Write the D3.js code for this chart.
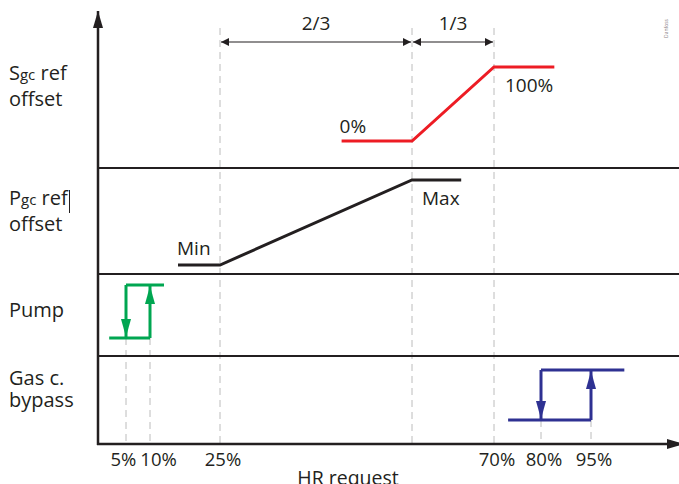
<!DOCTYPE html>
<html>
<head>
<meta charset="utf-8">
<script src="https://cdn.jsdelivr.net/npm/d3@7"></script>
<style>
  body { margin: 0; background: #fff; }
  text { font-family: "Open Sans", sans-serif; fill: #231f20; }
</style>
</head>
<body>
<svg class="chart"></svg>
<script>
// HR request values (%) that carry a tick + dashed guide
var ticks = [5, 10, 25, 70, 80, 95];
var tickLabels = ["5%", "10%", "25%", "70%", "80%", "95%"];
// extra guide where the 2/3 - 1/3 split sits
var splitGuides = [25, 55, 70];
var splitLabels = ["2/3", "1/3"];

// Sgc ref offset (red): HR % vs offset %
var sgcX = [44, 55, 70, 84];
var sgcY = [0, 0, 100, 100];
// Pgc ref offset (black): HR % vs Min(0)..Max(100)
var pgcX = [16, 25, 55, 64];
var pgcY = [0, 0, 100, 100];
// hysteresis: [line start, switch off, switch on, line end]
var pumpX = [2, 5, 10, 13];
var gasX = [73, 80, 95, 105];

var rowNames = [["Sgc", " ref", "offset"], ["Pgc", " ref", "offset"], ["Pump"], ["Gas c.", "bypass"]];

var Width = 679, Height = 484;
var x0 = 98, axisY = 444;

// piecewise x scale, the drawing is not to scale
var x = d3.scaleLinear()
    .domain([0, 5, 10, 25, 55, 70, 80, 95])
    .range([x0, 126, 150, 220, 412, 494, 541, 591]);

var ySgc = d3.scaleLinear().domain([0, 100]).range([141, 67]);
var yPgc = d3.scaleLinear().domain([0, 100]).range([265, 180]);
var yPump = d3.scaleLinear().domain([0, 1]).range([338, 285]);
var yGas = d3.scaleLinear().domain([0, 1]).range([420, 370]);

var chart = d3.select(".chart")
    .attr("width", Width)
    .attr("height", Height);

var defs = chart.append("defs");
function marker(id, len, wid, color) {
  defs.append("marker")
      .attr("id", id)
      .attr("viewBox", "0 0 " + len + " " + wid)
      .attr("refX", len).attr("refY", wid / 2)
      .attr("markerWidth", len).attr("markerHeight", wid)
      .attr("markerUnits", "userSpaceOnUse")
      .attr("orient", "auto-start-reverse")
    .append("path")
      .attr("d", "M0,0L" + len + "," + (wid / 2) + "L0," + wid + "Z")
      .attr("fill", color);
}
marker("axisHead", 17, 10, "#231f20");
marker("dimHead", 8, 8, "#231f20");
marker("greenHead", 18, 10, "#00a651");
marker("blueHead", 18, 10, "#2e3192");

// dashed guides
var guides = chart.append("g")
    .attr("stroke", "#bcbcbc")
    .attr("stroke-width", 1)
    .attr("stroke-dasharray", "7,5");

splitGuides.forEach(function(v) {
  guides.append("line")
      .attr("x1", x(v)).attr("x2", x(v))
      .attr("y1", 28).attr("y2", axisY);
});
pumpX.slice(1, 3).forEach(function(v) {
  guides.append("line")
      .attr("x1", x(v)).attr("x2", x(v))
      .attr("y1", yPump(0)).attr("y2", axisY);
});
gasX.slice(1, 3).forEach(function(v) {
  guides.append("line")
      .attr("x1", x(v)).attr("x2", x(v))
      .attr("y1", yGas(0)).attr("y2", axisY);
});

// row separators
[168, 274, 356].forEach(function(y) {
  chart.append("line")
      .attr("x1", x0).attr("x2", Width)
      .attr("y1", y).attr("y2", y)
      .attr("stroke", "#231f20")
      .attr("stroke-width", 2.2);
});

// axes
chart.append("line")
    .attr("x1", x0).attr("x2", x0)
    .attr("y1", axisY + 1).attr("y2", 11)
    .attr("stroke", "#231f20").attr("stroke-width", 2.5)
    .attr("marker-end", "url(#axisHead)");
chart.append("line")
    .attr("x1", x0 - 1).attr("x2", 684)
    .attr("y1", axisY).attr("y2", axisY)
    .attr("stroke", "#231f20").attr("stroke-width", 2.5)
    .attr("marker-end", "url(#axisHead)");

// dimension arrows 2/3 and 1/3
for (var i = 0; i < splitLabels.length; i++) {
  var a = x(splitGuides[i]), b = x(splitGuides[i + 1]);
  chart.append("line")
      .attr("x1", a + 1).attr("x2", b - 1)
      .attr("y1", 42).attr("y2", 42)
      .attr("stroke", "#231f20").attr("stroke-width", 1.2)
      .attr("marker-start", "url(#dimHead)")
      .attr("marker-end", "url(#dimHead)");
  chart.append("text")
      .attr("x", (a + b) / 2).attr("y", 30)
      .attr("text-anchor", "middle")
      .style("font-size", "19px")
      .text(splitLabels[i]);
}

// curves
var line = d3.line();
chart.append("path")
    .attr("d", line(sgcX.map(function(d, i) { return [x(d), ySgc(sgcY[i])]; })))
    .attr("fill", "none").attr("stroke", "#ed1c24").attr("stroke-width", 3);
chart.append("path")
    .attr("d", line(pgcX.map(function(d, i) { return [x(d), yPgc(pgcY[i])]; })))
    .attr("fill", "none").attr("stroke", "#231f20").attr("stroke-width", 3);

function hysteresis(xs, y, color, head) {
  var g = chart.append("g")
      .attr("stroke", color).attr("stroke-width", 3).attr("fill", "none");
  g.append("line")
      .attr("x1", x(xs[0])).attr("x2", x(xs[2]))
      .attr("y1", y(0)).attr("y2", y(0));
  g.append("line")
      .attr("x1", x(xs[1])).attr("x2", x(xs[3]))
      .attr("y1", y(1)).attr("y2", y(1));
  // switching off going down
  g.append("line")
      .attr("x1", x(xs[1])).attr("x2", x(xs[1]))
      .attr("y1", y(1)).attr("y2", y(0) - 1)
      .attr("marker-end", "url(#" + head + ")");
  // switching on going up
  g.append("line")
      .attr("x1", x(xs[2])).attr("x2", x(xs[2]))
      .attr("y1", y(0)).attr("y2", y(1) + 1)
      .attr("marker-end", "url(#" + head + ")");
}
hysteresis(pumpX, yPump, "#00a651", "greenHead");
hysteresis(gasX, yGas, "#2e3192", "blueHead");

// curve labels
chart.append("text").attr("x", x(sgcX[0]) - 2).attr("y", ySgc(0) - 8)
    .style("font-size", "19px").text("0%");
chart.append("text").attr("x", x(sgcX[2]) + 11).attr("y", ySgc(100) + 25)
    .style("font-size", "19px").text("100%");
chart.append("text").attr("x", x(pgcX[0]) - 1).attr("y", yPgc(0) - 10)
    .style("font-size", "19px").text("Min");
chart.append("text").attr("x", x(pgcX[2]) + 10).attr("y", yPgc(100) + 25)
    .style("font-size", "19px").text("Max");

// row labels
var rowY = [80, 205, 317, 385];
rowNames.forEach(function(r, i) {
  var t = chart.append("text")
      .attr("x", 9).attr("y", rowY[i])
      .style("font-size", "20px");
  if (r[0] === "Sgc" || r[0] === "Pgc") {
    t.append("tspan").text(r[0][0]);
    t.append("tspan").style("font-size", "15px").text(r[0].slice(1));
    t.append("tspan").text(r[1]);
    chart.append("text").attr("x", 9).attr("y", rowY[i] + 26)
        .style("font-size", "20px").text(r[2]);
  } else {
    t.text(r[0]);
    if (r[1]) {
      chart.append("text").attr("x", 9).attr("y", rowY[i] + 22)
          .style("font-size", "20px").text(r[1]);
    }
  }
});
// text cursor left in the source drawing
chart.append("line")
    .attr("x1", 69.5).attr("x2", 69.5)
    .attr("y1", 190).attr("y2", 213)
    .attr("stroke", "#231f20").attr("stroke-width", 1);

// tick labels, nudged apart where they would collide
var labels = chart.selectAll(".tick-label")
    .data(ticks)
    .enter().append("text")
    .attr("class", "tick-label")
    .attr("x", function(d) { return x(d) + 3; })
    .attr("y", 466)
    .attr("text-anchor", "middle")
    .style("font-size", "18.5px")
    .text(function(d, i) { return tickLabels[i]; });

var boxes = labels.nodes().map(function(n) {
  return { n: n, w: n.getComputedTextLength(), c: +n.getAttribute("x") };
});
for (var k = 1; k < boxes.length; k++) {
  var gap = (boxes[k].c - boxes[k].w / 2) - (boxes[k - 1].c + boxes[k - 1].w / 2) - 4;
  if (gap < 0) {
    boxes[k - 1].c += gap / 2;
    boxes[k].c -= gap / 2;
  }
}
boxes.forEach(function(b) { d3.select(b.n).attr("x", b.c); });

chart.append("text")
    .attr("x", 348).attr("y", 485)
    .attr("text-anchor", "middle")
    .style("font-size", "19.5px")
    .text("HR request");

// tiny vendor mark at the right edge
chart.append("text")
    .attr("transform", "translate(668,38) rotate(-90)")
    .style("font-size", "5px")
    .style("fill", "#8a7f86")
    .text("Danfoss");
</script>
</body>
</html>
